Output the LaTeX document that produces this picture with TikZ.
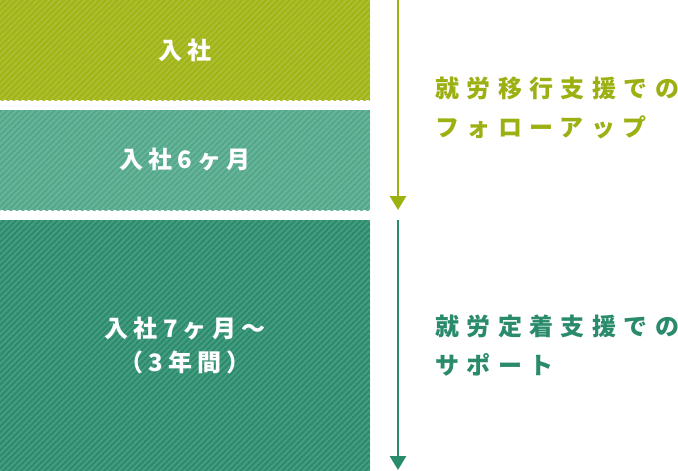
\documentclass[tikz,border=0pt]{standalone}
\usepackage{fontspec}
\setmainfont{Noto Sans CJK JP}
\usetikzlibrary{arrows.meta, patterns.meta, positioning}
\definecolor{olivegreen}{HTML}{A0B414}
\definecolor{midgreen}{HTML}{52A88A}
\definecolor{deepgreen}{HTML}{2A8C6C}
\definecolor{olivetext}{HTML}{9CB012}
\definecolor{deeptext}{HTML}{2A8A6C}

\tikzset{
  stage/.style={inner sep=0pt, minimum width=370pt, text=white, align=center,
    font=\fontsize{24}{34}\selectfont\bfseries\addfontfeatures{LetterSpace=22}},
  stripes/.style={preaction={fill=#1},
    pattern={Lines[angle=45, distance=4.2pt, line width=1.9pt]}, pattern color=white!14!#1},
  support/.style={anchor=west, inner sep=0pt, align=left,
    font=\fontsize{24}{39}\selectfont\bfseries\addfontfeatures{LetterSpace=31}},
  flow/.style={line width=2.8pt, -{Triangle[length=14pt, width=16pt]}}
}

\begin{document}
\begin{tikzpicture}[x=1pt, y=-1pt]
  \useasboundingbox (0,0) rectangle (678,471);

  % stages
  \node[stage, stripes=olivegreen, minimum height=100pt] (join) at (185,50) {入社};
  \node[stage, stripes=midgreen, minimum height=100pt] (sixmonth) at (185,160) {入社6ヶ月};
  \node[stage, stripes=deepgreen, minimum height=251pt] (sevenmonth) at (185,345.5)
    {入社7ヶ月～\\（3年間）};

  % arrows
  \coordinate (a1) at (398,0);
  \coordinate (a1end) at (398,210);
  \coordinate (a2) at (398,220);
  \coordinate (a2end) at (398,470);
  \draw[flow, olivetext] (a1) -- (a1end);
  \draw[flow, deeptext] (a2) -- (a2end);

  % support texts
  \node[support, text=olivetext] (transition) at (435,108) {就労移行支援での\\フォローアップ};
  \node[support, text=deeptext] (retention) at (435,346) {就労定着支援での\\サポート};
\end{tikzpicture}
\end{document}
